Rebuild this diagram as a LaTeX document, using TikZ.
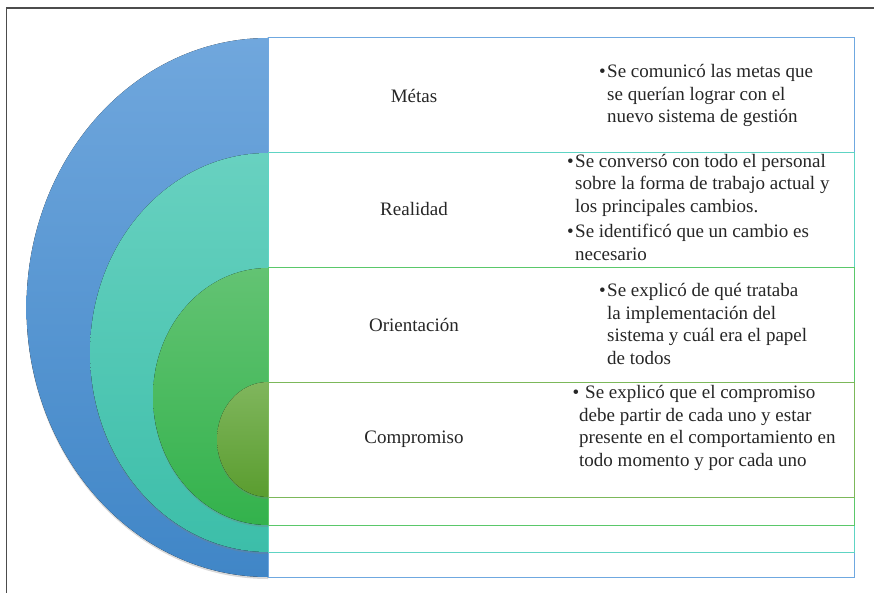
\documentclass[tikz,border=0pt]{standalone}
\usepackage{fontspec}
\setmainfont{Liberation Serif}
\usetikzlibrary{shadows,positioning}
\definecolor{blueT}{HTML}{70A7DD}
\definecolor{blueB}{HTML}{4086C7}
\definecolor{tealT}{HTML}{68D1C0}
\definecolor{tealB}{HTML}{3CBEA9}
\definecolor{greenT}{HTML}{63C373}
\definecolor{greenB}{HTML}{33B24C}
\definecolor{oliveT}{HTML}{80B65D}
\definecolor{oliveB}{HTML}{5A9D2F}
\definecolor{blueL}{HTML}{6FA8E0}
\definecolor{tealL}{HTML}{5ED4C4}
\definecolor{greenL}{HTML}{5AC86A}
\definecolor{oliveL}{HTML}{7CB85A}
\newcommand{\bul}{\llap{\textbullet\hspace{1.5pt}}}
\tikzset{ring/.style={drop shadow={opacity=0.3, shadow xshift=0pt, shadow yshift=-2pt}}}
\tikzset{box/.style={line width=1pt, fill=white}}
\tikzset{lbl/.style={inner sep=0pt, font=\fontsize{19}{22.5}\selectfont, text=black!85}}
% anchor is the baseline of the last line
\tikzset{txt/.style={anchor=base west, align=left, inner sep=0pt,
    font=\fontsize{19}{22.5}\selectfont, text=black!85}}

\begin{document}
\begin{tikzpicture}[x=1pt, y=-1pt]
        \useasboundingbox (0, 0) rectangle (874, 593); %
        \draw[line width=1.3pt, black!70] (6.5, 593) -- (6.5, 8) -- (874, 8); %
        % outer ring
        \fill[ring, top color=blueT, bottom color=blueB] (268, 38)
          arc[start angle=90, end angle=270, x radius=241.5pt, y radius=269.5pt] -- cycle; %
        \draw[box, draw=blueL] (268, 38) rectangle (854, 577); %
        \fill[ring, top color=tealT, bottom color=tealB] (268, 153)
          arc[start angle=90, end angle=270, x radius=178pt, y radius=199.5pt] -- cycle; %
        \draw[box, draw=tealL] (268, 153) rectangle (854, 552); %
        \fill[ring, top color=greenT, bottom color=greenB] (268, 268)
          arc[start angle=90, end angle=270, x radius=115pt, y radius=128.5pt] -- cycle; %
        \draw[box, draw=greenL] (268, 268) rectangle (854, 525); %
        % inner ring
        \fill[ring, top color=oliveT, bottom color=oliveB] (268, 382)
          arc[start angle=90, end angle=270, x radius=51pt, y radius=57.5pt] -- cycle; %
        \draw[box, draw=oliveL] (268, 382) rectangle (854, 497); %
        % labels
        \node[lbl] (metas) at (414, 95.5) {Métas}; %
        \node[lbl] (realidad) at (414, 209) {Realidad}; %
        \node[lbl] (orientacion) at (414, 325) {Orientación}; %
        \node[lbl] (compromiso) at (414, 439) {Compromiso}; %
        % texts
        \node[txt] (metastxt) at (607, 123) {\bul Se comunicó las metas que\\
          se querían lograr con el\\ nuevo sistema de gestión}; %
        \node[txt] (realidadtxt) at (575, 260.5) {\bul Se conversó con todo el personal\\
          sobre la forma de trabajo actual y\\ los principales cambios.\\[3pt]
          \bul Se identificó que un cambio es\\ necesario}; %
        \node[txt] (orientaciontxt) at (607, 364) {\bul Se explicó de qué trataba\\
          la implementación del\\ sistema y cuál era el papel\\ de todos}; %
        \node[txt] (compromisotxt) at (579, 466) {\llap{\textbullet}\hspace{6pt}Se explicó que el compromiso\\
          debe partir de cada uno y estar\\ presente en el comportamiento en\\
          todo momento y por cada uno}; %
\end{tikzpicture}
\end{document}
